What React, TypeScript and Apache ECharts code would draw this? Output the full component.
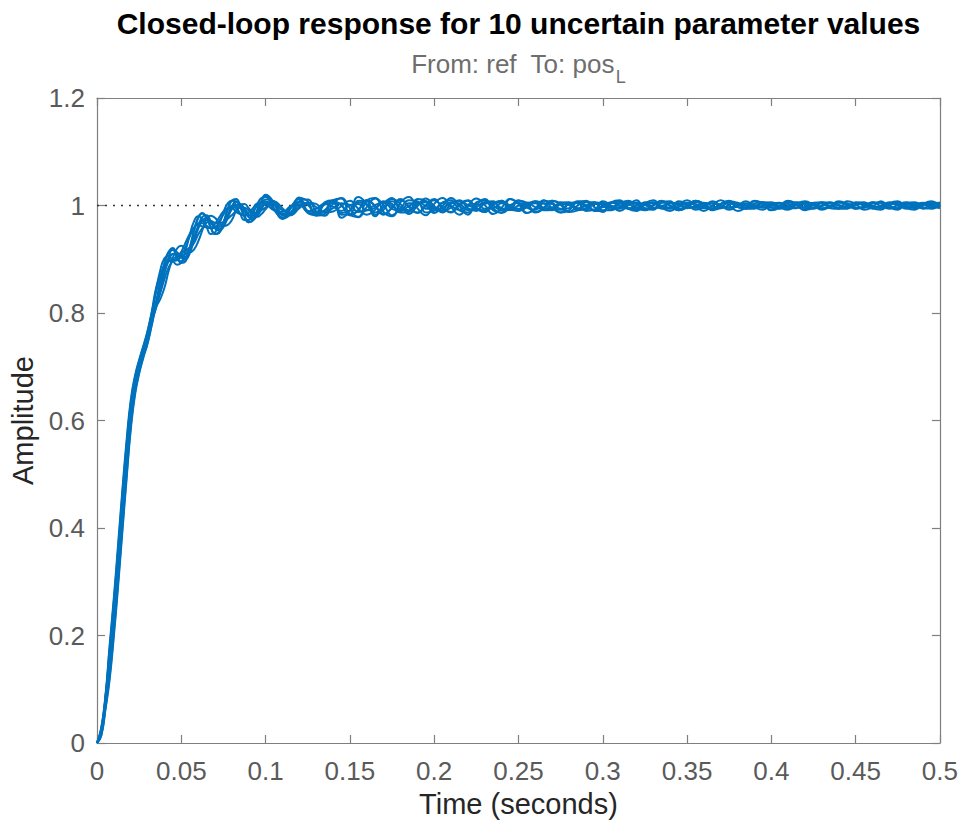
import React, { useEffect, useRef } from "react";
import * as echarts from "echarts";

// Sample times (seconds)
const time = [
  0, 0.0025, 0.005, 0.0075, 0.01, 0.0125, 0.015, 0.0175, 0.02, 0.0225,
  0.025, 0.0275, 0.03, 0.0325, 0.035, 0.0375, 0.04, 0.0425, 0.045, 0.0475,
  0.05, 0.0525, 0.055, 0.0575, 0.06, 0.0625, 0.065, 0.0675, 0.07, 0.0725,
  0.075, 0.0775, 0.08, 0.0825, 0.085, 0.0875, 0.09, 0.0925, 0.095, 0.0975,
  0.1,
  0.105, 0.11, 0.115, 0.12, 0.125, 0.13, 0.135, 0.14, 0.145, 0.15,
  0.155, 0.16, 0.165, 0.17, 0.175, 0.18, 0.185, 0.19, 0.195, 0.2,
  0.205, 0.21, 0.215, 0.22, 0.225, 0.23, 0.235, 0.24, 0.245, 0.25,
  0.255, 0.26, 0.265, 0.27, 0.275, 0.28, 0.285, 0.29, 0.295, 0.3,
  0.305, 0.31, 0.315, 0.32, 0.325, 0.33, 0.335, 0.34, 0.345, 0.35,
  0.355, 0.36, 0.365, 0.37, 0.375, 0.38, 0.385, 0.39, 0.395, 0.4,
  0.405, 0.41, 0.415, 0.42, 0.425, 0.43, 0.435, 0.44, 0.445, 0.45,
  0.455, 0.46, 0.465, 0.47, 0.475, 0.48, 0.485, 0.49, 0.495, 0.5,
];

// Step responses of the 10 sampled plants (amplitude)
const run1 = [
  0, 0.020, 0.075, 0.150, 0.235, 0.330, 0.430, 0.525, 0.610, 0.665,
  0.700, 0.728, 0.755, 0.790, 0.818, 0.848, 0.878, 0.900, 0.910, 0.909,
  0.907, 0.909, 0.922, 0.941, 0.960, 0.972, 0.973, 0.967, 0.961, 0.960,
  0.969, 0.982, 0.995, 1.001, 0.998, 0.989, 0.982, 0.981, 0.988, 0.998,
  1.007,
  1.002, 0.983, 0.988, 1.007, 1.001, 0.985, 0.991, 1.007, 1.000, 0.982, 0.992, 1.010,
  0.999, 0.984, 0.996, 1.010, 0.999, 0.987, 0.999, 1.010, 0.997, 0.988, 1.000, 1.009,
  0.996, 0.988, 1.001, 1.009, 0.995, 0.990, 1.001, 1.008, 0.995, 0.991, 1.003, 1.006,
  0.994, 0.992, 1.004, 1.005, 0.995, 0.994, 1.005, 1.005, 0.995, 0.995, 1.005, 1.005,
  0.994, 0.996, 1.006, 1.004, 0.994, 0.997, 1.006, 1.003, 0.994, 0.997, 1.006, 1.003,
  0.994, 0.999, 1.006, 1.001, 0.994, 1.000, 1.006, 1.000, 0.995, 1.000, 1.005, 1.000,
  0.995, 1.001, 1.005, 0.999, 0.995, 1.001, 1.005, 0.999,
];
const run2 = [
  0, 0.024, 0.082, 0.166, 0.253, 0.350, 0.450, 0.543, 0.624, 0.674,
  0.707, 0.734, 0.761, 0.797, 0.817, 0.856, 0.893, 0.914, 0.921, 0.905,
  0.896, 0.902, 0.922, 0.952, 0.976, 0.985, 0.977, 0.958, 0.947, 0.951,
  0.969, 0.993, 1.009, 1.008, 0.996, 0.978, 0.969, 0.974, 0.992, 1.009,
  1.018,
  0.995, 0.975, 0.995, 1.015, 0.986, 0.982, 1.006, 1.010, 0.977, 0.990, 1.016, 1.003,
  0.980, 1.003, 1.014, 0.992, 0.990, 1.012, 1.008, 0.986, 0.999, 1.014, 0.999, 0.983,
  1.006, 1.010, 0.991, 0.987, 1.012, 1.003, 0.986, 0.995, 1.010, 0.995, 0.987, 1.003,
  1.005, 0.990, 0.992, 1.008, 1.000, 0.990, 1.000, 1.010, 0.994, 0.992, 1.006, 1.008,
  0.991, 0.997, 1.009, 1.003, 0.991, 1.003, 1.009, 0.997, 0.995, 1.008, 1.005, 0.992,
  1.000, 1.009, 1.000, 0.991, 1.005, 1.006, 0.995, 0.994, 1.008, 1.003, 0.992, 0.997,
  1.008, 0.997, 0.992, 1.003, 1.004, 0.994, 0.996, 1.006,
];
const run3 = [
  0, 0.014, 0.065, 0.124, 0.206, 0.299, 0.399, 0.496, 0.588, 0.651,
  0.690, 0.719, 0.745, 0.780, 0.815, 0.837, 0.863, 0.885, 0.897, 0.907,
  0.912, 0.916, 0.922, 0.930, 0.946, 0.958, 0.968, 0.971, 0.968, 0.967,
  0.969, 0.975, 0.982, 0.990, 0.996, 0.996, 0.991, 0.986, 0.986, 0.991,
  0.996,
  1.004, 0.991, 0.986, 0.999, 1.005, 0.997, 0.987, 0.995, 1.004, 1.001, 0.988, 0.991,
  1.001, 1.005, 0.994, 0.990, 0.999, 1.006, 0.999, 0.991, 0.995, 1.005, 1.003, 0.992,
  0.992, 1.003, 1.005, 0.995, 0.992, 1.000, 1.005, 0.997, 0.994, 0.996, 1.004, 1.001,
  0.995, 0.994, 1.003, 1.003, 0.999, 0.995, 1.001, 1.005, 1.001, 0.995, 0.999, 1.005,
  1.004, 0.996, 0.996, 1.004, 1.004, 0.999, 0.996, 1.001, 1.004, 1.001, 0.996, 0.999,
  1.004, 1.003, 0.996, 0.997, 1.001, 1.004, 0.999, 0.996, 1.000, 1.004, 1.000, 0.996,
  0.997, 1.003, 1.003, 0.997, 0.997, 1.001, 1.003, 0.999,
];
const run4 = [
  0, 0.026, 0.085, 0.176, 0.264, 0.361, 0.461, 0.554, 0.632, 0.679,
  0.710, 0.737, 0.765, 0.800, 0.842, 0.879, 0.902, 0.906, 0.897, 0.890,
  0.894, 0.916, 0.945, 0.970, 0.980, 0.974, 0.960, 0.947, 0.950, 0.965,
  0.987, 1.004, 1.009, 0.999, 0.984, 0.973, 0.973, 0.985, 1.002, 1.014,
  1.016,
  0.992, 0.978, 0.998, 1.012, 0.989, 0.983, 1.003, 1.009, 0.983, 0.984, 1.009, 1.008,
  0.983, 0.992, 1.012, 1.003, 0.984, 0.999, 1.013, 0.999, 0.987, 1.003, 1.010, 0.995,
  0.990, 1.006, 1.008, 0.991, 0.992, 1.009, 1.005, 0.988, 0.996, 1.009, 1.001, 0.988,
  1.000, 1.009, 0.997, 0.988, 1.005, 1.008, 0.995, 0.992, 1.006, 1.005, 0.994, 0.995,
  1.008, 1.003, 0.992, 0.997, 1.008, 1.000, 0.992, 1.000, 1.008, 0.997, 0.992, 1.003,
  1.005, 0.995, 0.995, 1.005, 1.004, 0.994, 0.996, 1.006, 1.001, 0.994, 0.999, 1.006,
  0.999, 0.994, 1.001, 1.006, 0.997, 0.995, 1.003, 1.005,
];
const run5 = [
  0, 0.013, 0.062, 0.118, 0.199, 0.291, 0.391, 0.489, 0.582, 0.647,
  0.687, 0.717, 0.743, 0.777, 0.810, 0.826, 0.847, 0.878, 0.903, 0.920,
  0.925, 0.918, 0.913, 0.918, 0.933, 0.954, 0.975, 0.981, 0.977, 0.967,
  0.962, 0.964, 0.973, 0.990, 1.002, 1.003, 0.995, 0.986, 0.979, 0.984,
  0.993,
  1.008, 0.995, 0.982, 0.995, 1.005, 1.003, 0.987, 0.989, 0.999, 1.009, 0.994, 0.983,
  0.992, 1.008, 1.003, 0.987, 0.988, 1.003, 1.008, 0.995, 0.990, 0.996, 1.008, 1.001,
  0.994, 0.991, 1.004, 1.006, 1.000, 0.990, 0.997, 1.008, 1.004, 0.994, 0.992, 1.004,
  1.006, 0.999, 0.991, 0.999, 1.005, 1.004, 0.995, 0.996, 1.001, 1.006, 0.999, 0.994,
  0.997, 1.005, 1.003, 0.995, 0.995, 1.003, 1.005, 0.997, 0.995, 0.999, 1.005, 1.001,
  0.997, 0.995, 1.003, 1.005, 1.001, 0.995, 0.999, 1.005, 1.004, 0.996, 0.996, 1.004,
  1.005, 1.000, 0.995, 1.000, 1.004, 1.003, 0.996, 0.997,
];
const run6 = [
  0, 0.022, 0.079, 0.160, 0.246, 0.342, 0.442, 0.536, 0.618, 0.670,
  0.704, 0.731, 0.759, 0.794, 0.821, 0.858, 0.892, 0.913, 0.917, 0.902,
  0.893, 0.896, 0.920, 0.952, 0.978, 0.986, 0.978, 0.960, 0.947, 0.949,
  0.967, 0.991, 1.009, 1.012, 1.000, 0.982, 0.969, 0.972, 0.986, 1.007,
  1.020,
  1.005, 0.976, 0.985, 1.014, 1.008, 0.981, 0.984, 1.010, 1.013, 0.983, 0.979, 1.009,
  1.014, 0.988, 0.980, 1.006, 1.016, 0.995, 0.982, 1.003, 1.014, 0.997, 0.983, 1.000,
  1.013, 1.001, 0.984, 0.996, 1.012, 1.004, 0.986, 0.994, 1.009, 1.006, 0.987, 0.991,
  1.008, 1.008, 0.990, 0.990, 1.006, 1.010, 0.994, 0.990, 1.004, 1.010, 0.996, 0.990,
  1.001, 1.010, 0.999, 0.990, 1.000, 1.010, 1.000, 0.990, 0.997, 1.009, 1.003, 0.991,
  0.996, 1.008, 1.004, 0.992, 0.995, 1.006, 1.005, 0.994, 0.994, 1.005, 1.006, 0.995,
  0.992, 1.004, 1.008, 0.996, 0.992, 1.003, 1.008, 0.997,
];
const run7 = [
  0, 0.028, 0.088, 0.182, 0.271, 0.369, 0.469, 0.561, 0.638, 0.683,
  0.713, 0.739, 0.767, 0.803, 0.846, 0.870, 0.888, 0.896, 0.897, 0.902,
  0.914, 0.931, 0.947, 0.959, 0.964, 0.961, 0.959, 0.958, 0.966, 0.978,
  0.989, 0.995, 0.995, 0.988, 0.984, 0.982, 0.987, 0.995, 1.004, 1.005,
  1.003,
  0.991, 0.988, 0.999, 1.002, 0.989, 0.994, 1.003, 0.998, 0.990, 1.001, 1.003, 0.991,
  0.996, 1.005, 0.999, 0.990, 1.004, 1.004, 0.994, 0.994, 1.005, 0.999, 0.992, 0.999,
  1.003, 0.994, 0.995, 1.004, 0.997, 0.994, 1.000, 1.004, 0.995, 0.996, 1.003, 1.001,
  0.994, 1.000, 1.004, 0.997, 0.997, 1.004, 1.003, 0.996, 1.001, 1.004, 0.999, 0.996,
  1.004, 1.001, 0.996, 0.999, 1.004, 0.999, 0.996, 1.001, 1.001, 0.996, 0.999, 1.004,
  0.999, 0.996, 1.001, 1.004, 0.996, 0.999, 1.004, 1.001, 0.997, 1.003, 1.003, 0.997,
  1.000, 1.004, 1.000, 0.996, 1.003, 1.003, 0.997, 0.997,
];
const run8 = [
  0, 0.016, 0.069, 0.134, 0.217, 0.311, 0.411, 0.507, 0.596, 0.656,
  0.694, 0.723, 0.749, 0.784, 0.810, 0.840, 0.874, 0.897, 0.910, 0.909,
  0.905, 0.904, 0.915, 0.934, 0.956, 0.972, 0.977, 0.971, 0.961, 0.956,
  0.962, 0.977, 0.993, 1.001, 1.002, 0.994, 0.984, 0.977, 0.981, 0.993,
  1.003,
  1.006, 0.984, 0.984, 1.006, 1.003, 0.984, 0.989, 1.008, 1.001, 0.982, 0.991, 1.010,
  0.999, 0.983, 0.996, 1.012, 0.997, 0.986, 1.000, 1.012, 0.995, 0.987, 1.003, 1.010,
  0.994, 0.988, 1.004, 1.009, 0.992, 0.991, 1.005, 1.006, 0.991, 0.992, 1.006, 1.005,
  0.991, 0.995, 1.006, 1.003, 0.992, 0.997, 1.008, 1.003, 0.992, 1.000, 1.008, 1.000,
  0.992, 1.001, 1.008, 0.999, 0.994, 1.003, 1.006, 0.997, 0.994, 1.004, 1.006, 0.996,
  0.995, 1.005, 1.005, 0.995, 0.996, 1.005, 1.004, 0.995, 0.997, 1.006, 1.003, 0.994,
  0.999, 1.006, 1.001, 0.994, 1.000, 1.005, 1.000, 0.995,
];
const run9 = [
  0, 0.019, 0.072, 0.144, 0.228, 0.322, 0.422, 0.518, 0.604, 0.661,
  0.697, 0.726, 0.753, 0.787, 0.812, 0.841, 0.877, 0.904, 0.919, 0.913,
  0.903, 0.900, 0.911, 0.936, 0.962, 0.979, 0.982, 0.971, 0.957, 0.953,
  0.960, 0.978, 0.999, 1.006, 1.003, 0.991, 0.978, 0.974, 0.981, 0.996,
  1.011,
  1.008, 0.982, 0.982, 1.008, 1.011, 0.989, 0.981, 1.003, 1.014, 0.995, 0.978, 0.997,
  1.013, 1.001, 0.982, 0.994, 1.010, 1.008, 0.987, 0.990, 1.006, 1.010, 0.991, 0.987,
  1.001, 1.012, 0.995, 0.986, 0.997, 1.010, 1.000, 0.987, 0.994, 1.009, 1.004, 0.988,
  0.991, 1.006, 1.006, 0.991, 0.991, 1.004, 1.009, 0.996, 0.991, 1.001, 1.009, 0.999,
  0.991, 0.997, 1.009, 1.003, 0.992, 0.995, 1.008, 1.005, 0.995, 0.994, 1.005, 1.006,
  0.997, 0.992, 1.003, 1.008, 1.001, 0.992, 0.999, 1.008, 1.003, 0.994, 0.996, 1.006,
  1.005, 0.995, 0.995, 1.005, 1.006, 0.997, 0.994, 1.003,
];
const run10 = [
  0, 0.025, 0.083, 0.169, 0.257, 0.353, 0.453, 0.547, 0.627, 0.676,
  0.708, 0.735, 0.762, 0.798, 0.838, 0.866, 0.889, 0.899, 0.897, 0.898,
  0.907, 0.922, 0.942, 0.957, 0.967, 0.967, 0.962, 0.958, 0.959, 0.971,
  0.983, 0.995, 0.999, 0.994, 0.985, 0.982, 0.982, 0.990, 0.999, 1.007,
  1.007,
  0.993, 0.984, 0.996, 1.006, 0.990, 0.988, 1.002, 1.004, 0.986, 0.991, 1.006, 1.001,
  0.987, 0.997, 1.008, 0.997, 0.991, 1.003, 1.006, 0.994, 0.994, 1.006, 1.003, 0.991,
  0.997, 1.006, 1.000, 0.991, 1.001, 1.005, 0.996, 0.992, 1.004, 1.003, 0.994, 0.995,
  1.005, 1.000, 0.992, 0.997, 1.006, 0.999, 0.994, 1.001, 1.004, 0.996, 0.996, 1.004,
  1.001, 0.995, 0.999, 1.005, 0.999, 0.995, 1.001, 1.005, 0.996, 0.996, 1.004, 1.004,
  0.995, 0.997, 1.005, 1.001, 0.995, 1.000, 1.005, 1.000, 0.996, 1.003, 1.004, 0.997,
  0.997, 1.004, 1.003, 0.996, 1.000, 1.004, 1.000, 0.996,
];

const runs = [run1, run2, run3, run4, run5, run6, run7, run8, run9, run10];

// Steady-state reference and axis settings
const steadyState = 1;
const xRange = [0, 0.5];
const yRange = [0, 1.2];
const xStep = 0.05;
const yStep = 0.2;

const titleText = "Closed-loop response for 10 uncertain parameter values";
const subtitleMain = "From: ref  To: pos";
const subtitleSub = "L";
const xName = "Time (seconds)";
const yName = "Amplitude";

export default function App() {
  const ref = useRef<HTMLDivElement>(null);

  useEffect(() => {
    if (!ref.current) return;
    const chart = echarts.init(ref.current, null, { renderer: "svg" });
    const font = "'Liberation Sans', Arial, Helvetica, sans-serif";
    const axisColor = "#7f7f7f";
    const tickLabelColor = "#5a5a5a";
    const nameColor = "#262626";
    const subColor = "#6e6e6e";
    const lineBlue = "#0072BD";

    const gridLeft = 97;
    const gridTop = 98;
    const gridWidth = 843;
    const gridHeight = 645;
    const centerX = gridLeft + gridWidth / 2;

    // measure subtitle pieces to centre "From: ref  To: pos" + subscript "L"
    const mainSize = 26;
    const subSize = 18;
    let mainW = 206;
    let subW = 10;
    try {
      const cv = document.createElement("canvas");
      const ctx = cv.getContext("2d");
      if (ctx) {
        ctx.font = mainSize + "px " + font;
        mainW = ctx.measureText(subtitleMain).width;
        ctx.font = subSize + "px " + font;
        subW = ctx.measureText(subtitleSub).width;
      }
    } catch (e) {
      /* keep defaults */
    }
    const subStart = centerX - (mainW + 1 + subW) / 2;

    const axisLine = { show: true, onZero: false, lineStyle: { color: axisColor, width: 1.2 } };
    const axisTick = { show: true, inside: true, length: 8, lineStyle: { color: axisColor, width: 1.2 } };

    const curveSeries = runs.map((r, k) => ({
      type: "line",
      name: "run" + (k + 1),
      data: time.map((t, i) => [t, r[i]]),
      showSymbol: false,
      symbol: "none",
      smooth: 0.5,
      lineStyle: { color: lineBlue, width: 2 },
      z: 3,
      silent: true,
    }));

    chart.setOption({
      animation: false,
      backgroundColor: "#ffffff",
      textStyle: { fontFamily: font },
      grid: { left: gridLeft, top: gridTop, width: gridWidth, height: gridHeight, containLabel: false },
      xAxis: [
        {
          type: "value",
          position: "bottom",
          min: xRange[0],
          max: xRange[1],
          interval: xStep,
          axisLine,
          axisTick,
          splitLine: { show: false },
          axisLabel: { color: tickLabelColor, fontSize: 26, margin: 15, fontFamily: font },
          name: xName,
          nameLocation: "middle",
          nameGap: 46,
          nameTextStyle: { color: nameColor, fontSize: 29, fontFamily: font },
        },
        {
          type: "value",
          position: "top",
          min: xRange[0],
          max: xRange[1],
          interval: xStep,
          axisLine,
          axisTick,
          splitLine: { show: false },
          axisLabel: { show: false },
        },
      ],
      yAxis: [
        {
          type: "value",
          position: "left",
          min: yRange[0],
          max: yRange[1],
          interval: yStep,
          axisLine,
          axisTick,
          splitLine: { show: false },
          axisLabel: { color: tickLabelColor, fontSize: 26, margin: 12, fontFamily: font },
          name: yName,
          nameLocation: "middle",
          nameGap: 54,
          nameTextStyle: { color: nameColor, fontSize: 29, fontFamily: font },
        },
        {
          type: "value",
          position: "right",
          min: yRange[0],
          max: yRange[1],
          interval: yStep,
          axisLine,
          axisTick,
          splitLine: { show: false },
          axisLabel: { show: false },
        },
      ],
      series: [
        {
          type: "line",
          name: "steady",
          data: [
            [xRange[0], steadyState],
            [xRange[1], steadyState],
          ],
          showSymbol: false,
          symbol: "none",
          lineStyle: { color: "#333333", width: 1.4, type: [2, 6] },
          z: 2,
          silent: true,
        },
        ...curveSeries,
      ],
      graphic: [
        {
          type: "text",
          x: centerX,
          y: 23,
          style: {
            text: titleText,
            fill: "#000000",
            fontSize: 30,
            fontWeight: "bold",
            fontFamily: font,
            align: "center",
            verticalAlign: "middle",
          },
        },
        {
          type: "text",
          x: subStart,
          y: 64,
          style: {
            text: subtitleMain,
            fill: subColor,
            fontSize: mainSize,
            fontFamily: font,
            align: "left",
            verticalAlign: "middle",
          },
        },
        {
          type: "text",
          x: subStart + mainW + 1,
          y: 77,
          style: {
            text: subtitleSub,
            fill: subColor,
            fontSize: subSize,
            fontFamily: font,
            align: "left",
            verticalAlign: "middle",
          },
        },
      ],
    });

    return () => {
      chart.dispose();
    };
  }, []);

  return (
    <div
      ref={ref}
      style={{ position: "fixed", left: 0, top: 0, width: 961, height: 827, background: "#ffffff" }}
    />
  );
}
